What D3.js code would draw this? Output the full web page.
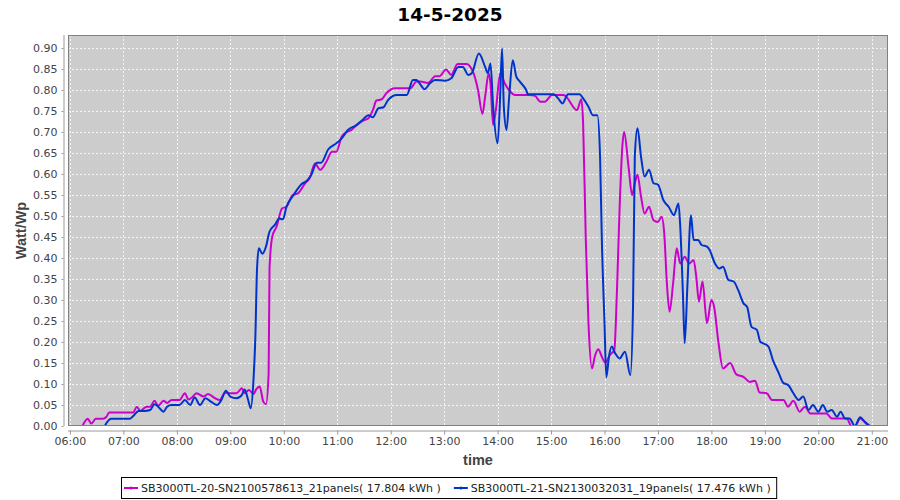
<!DOCTYPE html>
<html>
<head>
<meta charset="utf-8">
<script src="https://cdn.jsdelivr.net/npm/d3@7"></script>
<style>
  body { margin: 0; background: #fff; }
  svg { display: block; }
</style>
</head>
<body>
<div id="chart"></div>
<script>
// chart data
var title = "14-5-2025";
var seriesNames = [
  "SB3000TL-20-SN2100578613_21panels( 17.804 kWh )",
  "SB3000TL-21-SN2130032031_19panels( 17.476 kWh )"
];
var seriesColors = ["#cc00cc", "#0033cc"];

var magentaTimes = ["06:14","06:20","06:24","06:29","06:37","06:41","06:44","07:05","07:11","07:15","07:19","07:26","07:30","07:35","07:39","07:45","07:49","07:54","08:03","08:09","08:13","08:17","08:22","08:30","08:35","08:43","08:48","08:54","09:00","09:07","09:13","09:16","09:21","09:26","09:29","09:33","09:37","09:40","09:43","09:44","09:47","09:52","09:58","10:03","10:10","10:16","10:24","10:29","10:35","10:41","10:48","10:54","10:59","11:05","11:11","11:16","11:22","11:29","11:35","11:40","11:44","11:50","11:55","12:05","12:22","12:29","12:33","12:42","12:50","12:55","13:02","13:08","13:15","13:25","13:33","13:38","13:43","13:46","13:50","13:52","13:55","13:58","14:03","14:08","14:12","14:20","14:36","14:42","14:48","14:53","15:01","15:14","15:16","15:29","15:34","15:36","15:39","15:42","15:46","15:49","15:53","15:57","16:01","16:06","16:11","16:14","16:17","16:20","16:22","16:27","16:31","16:34","16:37","16:41","16:45","16:50","16:55","17:00","17:04","17:07","17:10","17:13","17:17","17:21","17:25","17:30","17:35","17:40","17:43","17:46","17:50","17:55","18:00","18:03","18:08","18:13","18:21","18:28","18:36","18:43","18:49","18:54","19:02","19:08","19:21","19:26","19:32","19:39","19:45","19:51","20:09","20:15","20:32","20:37","20:41","20:47","20:50","20:56"];
var magentaValues = [0.0,0.017,0.006,0.017,0.017,0.022,0.032,0.032,0.032,0.046,0.036,0.046,0.046,0.06,0.048,0.06,0.055,0.062,0.062,0.078,0.063,0.068,0.078,0.07,0.076,0.066,0.062,0.079,0.078,0.078,0.09,0.078,0.086,0.076,0.087,0.094,0.058,0.052,0.125,0.375,0.45,0.475,0.518,0.522,0.55,0.554,0.578,0.59,0.625,0.61,0.63,0.653,0.653,0.689,0.70,0.705,0.717,0.727,0.733,0.752,0.775,0.778,0.792,0.804,0.804,0.82,0.82,0.817,0.833,0.833,0.849,0.836,0.862,0.862,0.84,0.80,0.743,0.784,0.84,0.816,0.717,0.752,0.84,0.816,0.802,0.788,0.788,0.786,0.772,0.772,0.788,0.788,0.786,0.752,0.778,0.72,0.443,0.245,0.137,0.165,0.183,0.165,0.151,0.169,0.181,0.324,0.522,0.665,0.70,0.617,0.55,0.578,0.598,0.546,0.506,0.522,0.49,0.486,0.498,0.46,0.34,0.272,0.34,0.423,0.387,0.403,0.387,0.395,0.355,0.296,0.344,0.245,0.30,0.284,0.197,0.137,0.15,0.123,0.117,0.105,0.108,0.08,0.078,0.062,0.062,0.046,0.06,0.034,0.046,0.03,0.03,0.018,0.018,0.0,0.0,0.018,0.014,0.0];

var blueTimes = ["06:39","06:46","07:07","07:11","07:17","07:24","07:30","07:35","07:39","07:45","07:49","07:54","08:03","08:09","08:15","08:20","08:26","08:32","08:37","08:45","08:50","08:55","09:00","09:07","09:13","09:16","09:20","09:23","09:26","09:28","09:30","09:32","09:36","09:40","09:44","09:50","09:55","09:59","10:03","10:11","10:20","10:26","10:31","10:37","10:42","10:50","10:59","11:05","11:12","11:22","11:29","11:35","11:40","11:46","11:52","11:57","12:07","12:18","12:25","12:29","12:33","12:38","12:44","12:50","13:01","13:08","13:16","13:21","13:27","13:31","13:39","13:46","13:49","13:52","13:55","14:00","14:03","14:05","14:07","14:10","14:13","14:17","14:21","14:25","14:32","14:34","15:03","15:08","15:13","15:17","15:19","15:32","15:36","15:42","15:47","15:52","15:55","15:57","16:00","16:02","16:05","16:08","16:12","16:17","16:23","16:29","16:32","16:34","16:37","16:41","16:45","16:50","16:55","17:00","17:06","17:12","17:18","17:23","17:25","17:28","17:30","17:33","17:37","17:40","17:45","17:49","17:55","17:58","18:04","18:09","18:13","18:19","18:25","18:30","18:36","18:40","18:45","18:51","18:55","18:58","19:04","19:09","19:15","19:21","19:26","19:32","19:38","19:43","19:49","19:54","20:00","20:05","20:10","20:15","20:21","20:25","20:30","20:35","20:41","20:47","20:52","20:58"];
var blueValues = [0.0,0.017,0.017,0.024,0.036,0.036,0.038,0.052,0.046,0.034,0.046,0.05,0.05,0.062,0.05,0.068,0.05,0.066,0.06,0.05,0.062,0.084,0.07,0.066,0.074,0.087,0.062,0.042,0.11,0.205,0.375,0.423,0.41,0.427,0.463,0.479,0.494,0.492,0.522,0.55,0.576,0.584,0.598,0.627,0.627,0.659,0.673,0.685,0.705,0.717,0.73,0.74,0.735,0.756,0.759,0.776,0.788,0.788,0.824,0.824,0.814,0.802,0.816,0.824,0.822,0.828,0.855,0.855,0.836,0.84,0.887,0.855,0.84,0.863,0.76,0.673,0.792,0.899,0.76,0.705,0.784,0.871,0.832,0.82,0.80,0.79,0.79,0.78,0.768,0.784,0.79,0.79,0.78,0.76,0.74,0.74,0.641,0.443,0.245,0.116,0.165,0.189,0.173,0.161,0.177,0.121,0.284,0.641,0.709,0.641,0.594,0.61,0.578,0.575,0.538,0.522,0.502,0.53,0.475,0.316,0.197,0.332,0.502,0.443,0.443,0.431,0.427,0.419,0.387,0.375,0.379,0.348,0.344,0.324,0.292,0.284,0.236,0.229,0.2,0.197,0.189,0.157,0.129,0.102,0.098,0.078,0.062,0.07,0.038,0.05,0.034,0.05,0.034,0.038,0.022,0.034,0.018,0.018,0.0,0.021,0.01,0.0];

var yTickValues = [0,0.05,0.1,0.15,0.2,0.25,0.3,0.35,0.4,0.45,0.5,0.55,0.6,0.65,0.7,0.75,0.8,0.85,0.9];
var xLabel = "time";
var yLabel = "Watt/Wp";

(function () {
  'use strict';
  var width = 900, height = 500;
  var left = 68, right = 888, top = 35, bottom = 426;
  var parseTime = d3.timeParse("%H:%M");

  var svg = d3.select("#chart").append("svg")
    .attr("width", width)
    .attr("height", height)
    .style("font-family", "'DejaVu Sans', sans-serif");

  var x = d3.scaleTime()
    .domain([new Date(1900, 0, 1, 5, 57, 48), new Date(1900, 0, 1, 21, 18, 12)])
    .range([left, right]);
  var y = d3.scaleLinear()
    .domain([0, 0.931])
    .range([bottom, top]);

  // title
  svg.append("text")
    .attr("x", width / 2)
    .attr("y", 21)
    .attr("text-anchor", "middle")
    .style("font-size", "18.5px")
    .style("font-weight", "bold")
    .text(title);

  // plot background
  svg.append("rect")
    .attr("x", left).attr("y", top)
    .attr("width", right - left).attr("height", bottom - top)
    .attr("fill", "#cccccc");

  var hourTicks = d3.timeHour.range(new Date(1900, 0, 1, 6), new Date(1900, 0, 1, 21, 1));

  // gridlines
  var grid = svg.append("g")
    .attr("stroke", "#f4f4f4")
    .attr("stroke-width", 1)
    .attr("stroke-dasharray", "2,2");
  grid.selectAll(".vg")
    .data(hourTicks)
    .enter().append("line")
    .attr("x1", function (d) { return Math.round(x(d)) + 0.5; })
    .attr("x2", function (d) { return Math.round(x(d)) + 0.5; })
    .attr("y1", top).attr("y2", bottom);
  grid.selectAll(".hg")
    .data(yTickValues.slice(1))
    .enter().append("line")
    .attr("x1", left).attr("x2", right)
    .attr("y1", function (d) { return Math.round(y(d)) + 0.5; })
    .attr("y2", function (d) { return Math.round(y(d)) + 0.5; });

  // series lines
  svg.append("clipPath").attr("id", "plotclip")
    .append("rect")
    .attr("x", left).attr("y", top)
    .attr("width", right - left).attr("height", bottom - top);

  var line = d3.line()
    .x(function (d) { return x(d[0]); })
    .y(function (d) { return y(d[1]); })
    .curve(d3.curveMonotoneX);

  var series = [
    magentaTimes.map(function (t, i) { return [parseTime(t), magentaValues[i]]; }),
    blueTimes.map(function (t, i) { return [parseTime(t), blueValues[i]]; })
  ];

  svg.append("g")
    .attr("clip-path", "url(#plotclip)")
    .selectAll("path")
    .data(series)
    .enter().append("path")
    .attr("fill", "none")
    .attr("stroke", function (d, i) { return seriesColors[i]; })
    .attr("stroke-width", 2)
    .attr("stroke-linejoin", "round")
    .attr("d", line);

  // plot outline
  svg.append("rect")
    .attr("x", left + 0.5).attr("y", top + 0.5)
    .attr("width", right - left - 1).attr("height", bottom - top - 1)
    .attr("fill", "none")
    .attr("stroke", "#808080");

  // axes
  var xAxis = svg.append("g")
    .attr("transform", "translate(0," + (bottom + 4.5) + ")")
    .call(d3.axisBottom(x)
      .tickValues(hourTicks)
      .tickFormat(d3.timeFormat("%H:%M"))
      .tickSizeInner(4).tickSizeOuter(0)
      .tickPadding(3));
  var yAxis = svg.append("g")
    .attr("transform", "translate(" + (left - 4.5) + ",0)")
    .call(d3.axisLeft(y)
      .tickValues(yTickValues)
      .tickFormat(d3.format(".2f"))
      .tickSizeInner(2).tickSizeOuter(0)
      .tickPadding(4));

  [xAxis, yAxis].forEach(function (a) {
    a.select(".domain").attr("stroke", "#999999");
    a.selectAll(".tick line").attr("stroke", "#999999");
    a.selectAll(".tick text")
      .attr("fill", "#444444")
      .style("font-family", "'DejaVu Sans', sans-serif")
      .style("font-size", "11px");
  });
  yAxis.select(".domain").attr("d", "M0.5," + top + "V" + bottom);
  xAxis.select(".domain").attr("d", "M" + left + ",0.5H" + right);

  // axis labels
  svg.append("text")
    .attr("x", (left + right) / 2)
    .attr("y", 465)
    .attr("text-anchor", "middle")
    .attr("fill", "#444444")
    .style("font-size", "14.5px")
    .style("font-family", "'Liberation Sans', sans-serif")
    .style("font-weight", "bold")
    .text(xLabel);
  svg.append("text")
    .attr("transform", "translate(26," + ((top + bottom) / 2) + ") rotate(-90)")
    .attr("text-anchor", "middle")
    .attr("fill", "#444444")
    .style("font-size", "14.5px")
    .style("font-family", "'Liberation Sans', sans-serif")
    .style("font-weight", "bold")
    .text(yLabel);

  // legend
  var legend = svg.append("g");
  var box = legend.append("rect")
    .attr("fill", "#ffffff")
    .attr("stroke", "#000000")
    .attr("stroke-width", 1);
  var cx = 124;
  var ly = 488;
  seriesNames.forEach(function (name, i) {
    legend.append("line")
      .attr("x1", cx).attr("x2", cx + 14)
      .attr("y1", ly).attr("y2", ly)
      .attr("stroke", seriesColors[i])
      .attr("stroke-width", 2);
    legend.append("circle")
      .attr("cx", cx + 7).attr("cy", ly).attr("r", 1.5)
      .attr("fill", seriesColors[i]);
    var t = legend.append("text")
      .attr("x", cx + 17)
      .attr("y", ly + 4)
      .attr("fill", "#222222")
      .style("font-size", "11px")
      .text(name);
    cx = cx + 17 + t.node().getComputedTextLength() + 13;
  });
  box.attr("x", 121.5).attr("y", 477.5)
    .attr("width", cx - 13 + 6 - 121.5)
    .attr("height", 21);
})();
</script>
</body>
</html>
